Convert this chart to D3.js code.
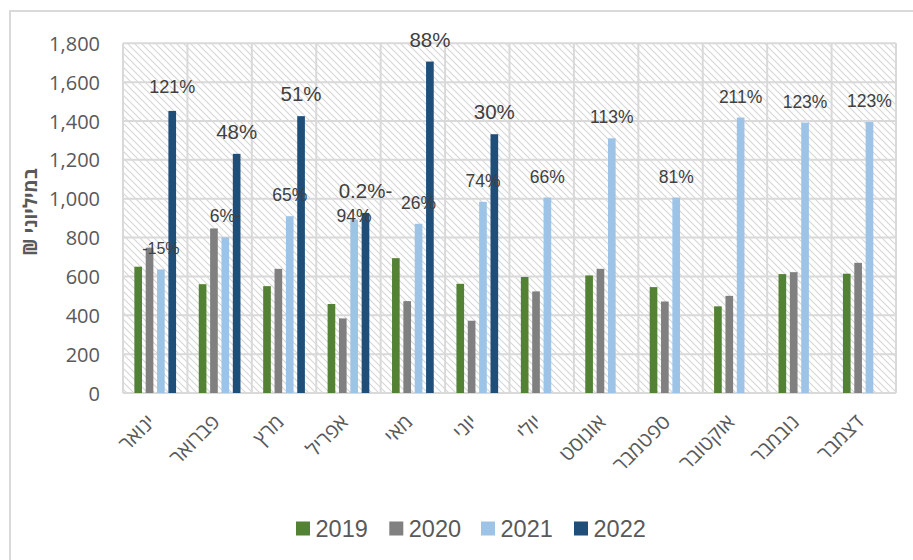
<!DOCTYPE html>
<html><head><meta charset="utf-8">
<script src="https://cdn.jsdelivr.net/npm/d3@7"></script>
<style>body{margin:0;background:#fff}svg{display:block}</style>
</head><body>
<svg id="c" width="913" height="560"></svg>
<script>
const months = ["ינואר","פברואר","מרץ","אפריל","מאי","יוני","יולי","אוגוסט","ספטמבר","אוקטובר","נובמבר","דצמבר"];
const seriesNames = ["2019","2020","2021","2022"];
const v2019 = [650,560,550,458,694,562,597,605,545,446,612,614];
const v2020 = [748,847,639,384,473,372,523,639,471,500,622,670];
const v2021 = [636,801,910,893,871,984,1006,1311,1006,1418,1392,1395];
const v2022 = [1452,1231,1425,927,1706,1332,null,null,null,null,null,null];
const yTicks = [0,200,400,600,800,1000,1200,1400,1600,1800];
const yTitle = "במיליוני ₪";
// percentage annotations: [month index, series, text]
const labelMonth = [0,0,1,1,2,2,3,3,4,4,5,5,6,7,8,9,10,11];
const labelSeries = ["2021","2022","2021","2022","2021","2022","2021","2022","2021","2022","2021","2022","2021","2021","2021","2021","2021","2021"];
const labelText = ["-15%","121%","6%-","48%","65%","51%","94%","0.2%-","26%","88%","74%","30%","66%","113%","81%","211%","123%","123%"];

const colors = {"2019":"#548235","2020":"#808080","2021":"#9DC3E6","2022":"#1F4E79"};
const vals = {"2019":v2019,"2020":v2020,"2021":v2021,"2022":v2022};

const svg = d3.select("#c");
const L=123, R=896, T=43.3, B=393;

// outer chart border
svg.append("rect").attr("x",10).attr("y",11).attr("width",920).attr("height",570)
  .attr("fill","none").attr("stroke","#d9d9d9").attr("stroke-width",2);

const defs = svg.append("defs");
const P = 7;
const pat = defs.append("pattern").attr("id","hatch").attr("patternUnits","userSpaceOnUse")
  .attr("width",P).attr("height",P);
pat.append("rect").attr("width",P).attr("height",P).attr("fill","#fff");
pat.append("path").attr("d",`M-1,-1 L${P+1},${P+1} M${-P-1},-1 L1,${P+1} M${P-1},-1 L${2*P+1},${P+1}`)
  .attr("stroke","#d6d6d6").attr("stroke-width",1.1);

const x0 = d3.scaleBand().domain(months).range([L,R]).paddingInner(0).paddingOuter(0);
const x1 = d3.scaleBand().domain(seriesNames).range([0,x0.bandwidth()]).paddingInner(0.325).paddingOuter(1.0);
const y = d3.scaleLinear().domain([0,1800]).range([B,T]);

svg.append("rect").attr("x",L).attr("y",T).attr("width",R-L).attr("height",B-T).attr("fill","url(#hatch)");

// gridlines
svg.append("g").selectAll("line").data(yTicks).join("line")
  .attr("x1",L).attr("x2",R).attr("y1",d=>y(d)).attr("y2",d=>y(d))
  .attr("stroke","#d9d9d9").attr("stroke-width",2);
svg.append("g").selectAll("line").data(months.concat(["__end"])).join("line")
  .attr("x1",(d,i)=>L+i*x0.step()).attr("x2",(d,i)=>L+i*x0.step())
  .attr("y1",T).attr("y2",B).attr("stroke","#d9d9d9").attr("stroke-width",2);

// bars
const g = svg.append("g");
seriesNames.forEach(s=>{
  g.selectAll(null).data(months.map((m,i)=>({m,v:vals[s][i]})).filter(d=>d.v!=null)).join("rect")
    .attr("x",d=>x0(d.m)+x1(s)).attr("width",x1.bandwidth())
    .attr("y",d=>y(d.v)).attr("height",d=>B-y(d.v)).attr("fill",colors[s]);
});

// y axis
const yAxis = d3.axisLeft(y).tickValues(yTicks).tickFormat(d3.format(",")).tickSize(0).tickPadding(0);
const ya = svg.append("g").attr("transform",`translate(100,0)`).call(yAxis);
ya.select(".domain").remove();
ya.selectAll("text").attr("font-family","'Open Sans', sans-serif").attr("font-size",20).attr("fill","#595959").attr("dy","0.35em");

// x axis labels
const xAxis = d3.axisBottom(x0).tickSize(0).tickPadding(0);
const xa = svg.append("g").attr("transform",`translate(0,${B})`).call(xAxis);
xa.select(".domain").remove();
xa.selectAll("text").attr("font-family","'Open Sans','DejaVu Sans', sans-serif").attr("font-size",20.5)
  .attr("fill","#595959").attr("text-anchor","end").attr("y",0).attr("dy","0.7em")
  .attr("transform","translate(-9,20) rotate(-45)");

// y title
svg.append("text").attr("transform","translate(30,212) rotate(-90)")
  .attr("text-anchor","middle").attr("dy","0.35em").attr("direction","rtl")
  .attr("font-family","'Open Sans','DejaVu Sans', sans-serif").attr("font-weight","bold")
  .attr("font-size",19).attr("fill","#595959").text(yTitle);

// percent labels
const bigIdx = new Set([3,5,7,9,11]);
const sizeFor = i => i===0 ? 16 : (bigIdx.has(i) ? 20.5 : (i===1 ? 18 : 17.5));
const extraDy = {1:-2.5, 6:17};
svg.append("g").selectAll("text").data(labelText).join("text")
  .attr("x",(d,i)=>x0(months[labelMonth[i]])+x1(labelSeries[i])+x1.bandwidth()/2)
  .attr("y",(d,i)=>y(vals[labelSeries[i]][labelMonth[i]]) - 15 + (extraDy[i]||0))
  .attr("text-anchor","middle").attr("font-family","'Liberation Sans', Arial, sans-serif")
  .attr("font-size",(d,i)=>sizeFor(i)).attr("fill","#404040").text(d=>d);

// legend
const legX = [296,389.3,481,574];
const leg = svg.append("g").selectAll("g").data(seriesNames).join("g")
  .attr("transform",(d,i)=>`translate(${legX[i]},521.5)`);
leg.append("rect").attr("width",14).attr("height",14).attr("fill",d=>colors[d]);
leg.append("text").attr("x",19.5).attr("y",15.5).attr("font-family","'Liberation Sans', Arial, sans-serif")
  .attr("font-size",23.5).attr("fill","#595959").text(d=>d);
</script>
</body></html>
